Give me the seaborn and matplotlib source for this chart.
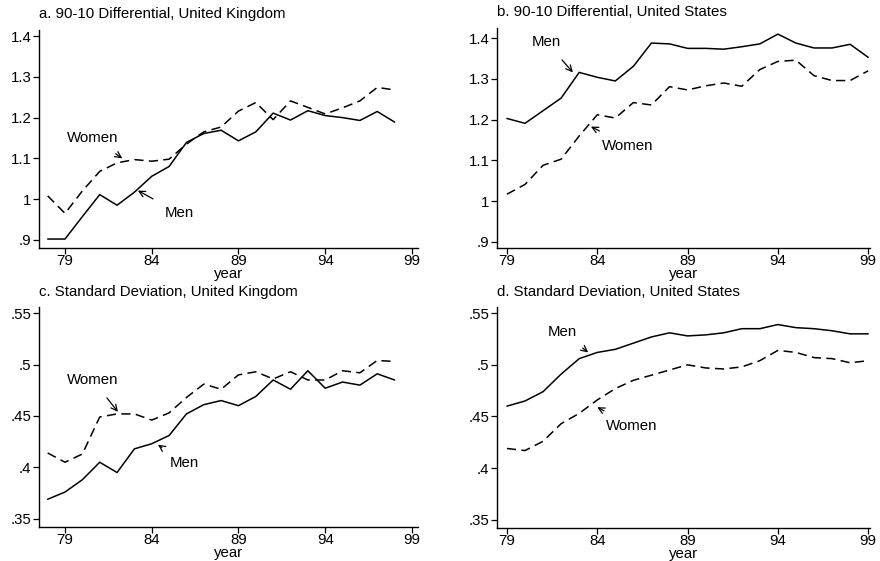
import matplotlib
matplotlib.use("Agg")
import matplotlib.pyplot as plt
import seaborn as sns
import pandas as pd

sns.set_theme(style="ticks")
plt.rcParams['font.family'] = ['Liberation Sans', 'DejaVu Sans']

years_uk = list(range(1978, 1999))
years_us = list(range(1979, 2000))

uk_9010_men = [0.902, 0.902, 0.957, 1.011, 0.985, 1.017, 1.056, 1.080, 1.139, 1.161, 1.169,
               1.143, 1.165, 1.211, 1.194, 1.217, 1.205, 1.200, 1.193, 1.215, 1.189]
uk_9010_women = [1.008, 0.965, 1.020, 1.068, 1.089, 1.097, 1.093, 1.098, 1.135, 1.165, 1.177,
                 1.216, 1.237, 1.195, 1.241, 1.225, 1.209, 1.224, 1.241, 1.274, 1.268]
us_9010_men = [1.203, 1.191, 1.222, 1.253, 1.316, 1.304, 1.295, 1.331, 1.388, 1.386, 1.375,
               1.375, 1.373, 1.379, 1.386, 1.410, 1.388, 1.376, 1.376, 1.385, 1.353]
us_9010_women = [1.017, 1.041, 1.088, 1.103, 1.160, 1.212, 1.204, 1.242, 1.236, 1.281, 1.273,
                 1.283, 1.290, 1.282, 1.323, 1.343, 1.346, 1.308, 1.296, 1.296, 1.320]
uk_sd_men = [0.369, 0.376, 0.388, 0.405, 0.395, 0.418, 0.423, 0.431, 0.452, 0.461, 0.465,
             0.460, 0.469, 0.485, 0.476, 0.494, 0.477, 0.483, 0.480, 0.491, 0.485]
uk_sd_women = [0.414, 0.405, 0.413, 0.449, 0.452, 0.452, 0.446, 0.453, 0.468, 0.481, 0.476,
               0.490, 0.493, 0.486, 0.493, 0.485, 0.485, 0.494, 0.492, 0.504, 0.503]
us_sd_men = [0.460, 0.465, 0.474, 0.491, 0.506, 0.512, 0.515, 0.521, 0.527, 0.531, 0.528,
             0.529, 0.531, 0.535, 0.535, 0.539, 0.536, 0.535, 0.533, 0.530, 0.530]
us_sd_women = [0.419, 0.417, 0.426, 0.443, 0.453, 0.466, 0.477, 0.485, 0.490, 0.495, 0.500,
               0.497, 0.496, 0.498, 0.504, 0.514, 0.512, 0.507, 0.506, 0.502, 0.504]

titles = ["a. 90-10 Differential, United Kingdom", "b. 90-10 Differential, United States",
          "c. Standard Deviation, United Kingdom", "d. Standard Deviation, United States"]
xticks = [1979, 1984, 1989, 1994, 1999]
xticklabels = ["79", "84", "89", "94", "99"]
yticks_9010 = [0.9, 1.0, 1.1, 1.2, 1.3, 1.4]
yticklabels_9010 = [".9", "1", "1.1", "1.2", "1.3", "1.4"]
yticks_sd = [0.35, 0.40, 0.45, 0.50, 0.55]
yticklabels_sd = [".35", ".4", ".45", ".5", ".55"]

FS = 10.8

fig = plt.figure(figsize=(8.8, 5.61), dpi=100)
pos = [
    [39/880, 1-248/561, (418-39)/880, (248-30)/561],
    [497/880, 1-248/561, (870-497)/880, (248-28)/561],
    [39/880, 1-527/561, (418-39)/880, (527-307)/561],
    [497/880, 1-528/561, (870-497)/880, (528-307)/561],
]
panels = [
    (years_uk, uk_9010_men, uk_9010_women, (77.5, 99.35), (0.88, 1.415), yticks_9010, yticklabels_9010,
     [("Women", (80.6, 1.15), (82.3, 1.10)), ("Men", (85.6, 0.965), (83.2, 1.021))]),
    (years_us, us_9010_men, us_9010_women, (78.45, 99.1), (0.885, 1.425), yticks_9010, yticklabels_9010,
     [("Men", (81.2, 1.39), (82.65, 1.316)), ("Women", (85.7, 1.136), (83.65, 1.183))]),
    (years_uk, uk_sd_men, uk_sd_women, (77.5, 99.35), (0.342, 0.556), yticks_sd, yticklabels_sd,
     [("Women", (80.6, 0.485), (82.05, 0.454)), ("Men", (85.9, 0.404), (84.36, 0.422))]),
    (years_us, us_sd_men, us_sd_women, (78.45, 99.1), (0.342, 0.556), yticks_sd, yticklabels_sd,
     [("Men", (82.05, 0.532), (83.5, 0.512)), ("Women", (85.9, 0.441), (84.0, 0.459))]),
]

for i, (yrs, men, women, xl, yl, yt, ytl, notes) in enumerate(panels):
    ax = fig.add_axes(pos[i])
    df = pd.DataFrame({"year": yrs, "men": men, "women": women})
    sns.lineplot(data=df, x="year", y="men", ax=ax, color="black", linewidth=1.1)
    sns.lineplot(data=df, x="year", y="women", ax=ax, color="black", linewidth=1.1,
                 linestyle=(0, (6, 3.5)))
    ax.set_xlim(xl[0] + 1900, xl[1] + 1900)
    ax.set_ylim(*yl)
    ax.set_xticks(xticks)
    ax.set_xticklabels(xticklabels)
    ax.set_yticks(yt)
    ax.set_yticklabels(ytl)
    ax.tick_params(axis="both", labelsize=FS, length=4, width=0.9, color="black",
                   labelcolor="black")
    ax.tick_params(axis="x", pad=0.5)
    ax.tick_params(axis="y", pad=1.5)
    ax.set_xlabel("year", fontsize=FS, labelpad=-1.2, color="black")
    ax.set_ylabel("")
    for s in ["top", "right"]:
        ax.spines[s].set_visible(False)
    for s in ["left", "bottom"]:
        ax.spines[s].set_color("black")
        ax.spines[s].set_linewidth(1.0)
    ax.text(0.0, 1.04 if i < 2 else 1.035, titles[i], transform=ax.transAxes, fontsize=FS,
            ha="left", va="bottom", color="black")
    for label, txy, axy in notes:
        ax.annotate(label, xy=(axy[0] + 1900, axy[1]), xytext=(txy[0] + 1900, txy[1]),
                    fontsize=FS, ha="center", va="center", color="black",
                    arrowprops=dict(arrowstyle="->", color="black", lw=0.9,
                                    shrinkA=7, shrinkB=0))

fig.savefig("out.png", dpi=100)
